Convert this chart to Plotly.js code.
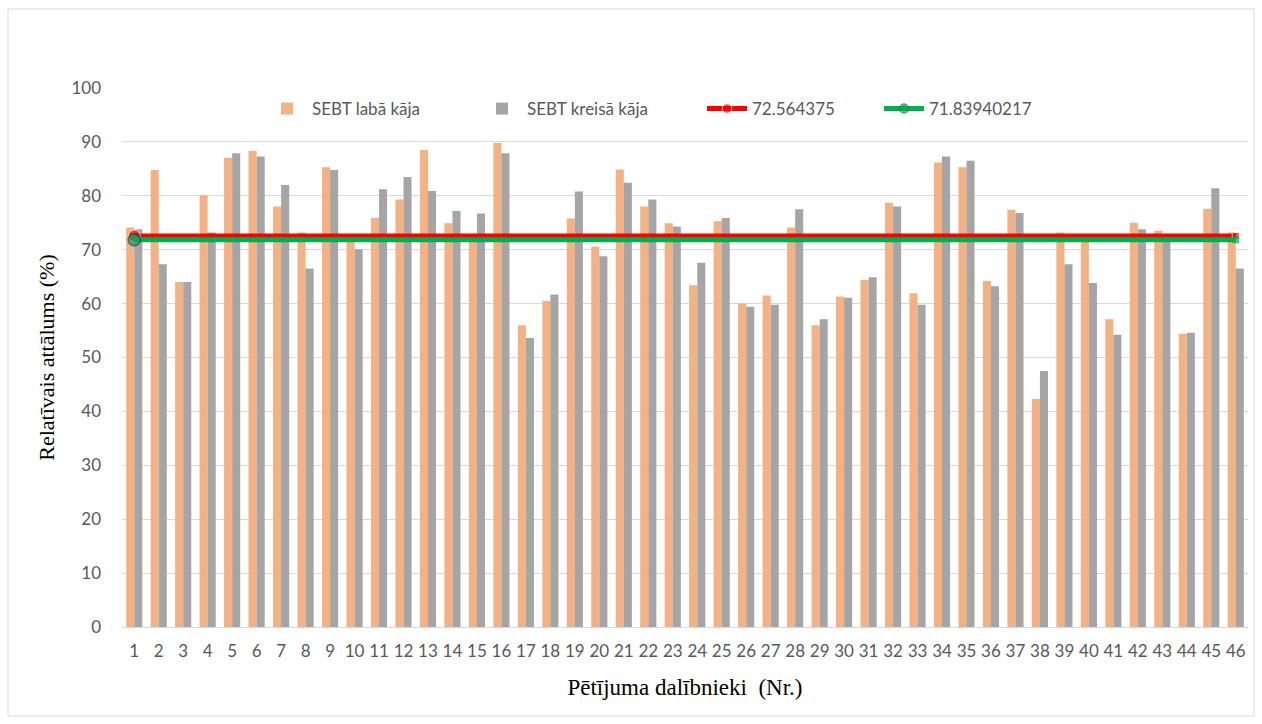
<!DOCTYPE html>
<html>
<head>
<meta charset="utf-8">
<script src="https://cdn.plot.ly/plotly-3.0.1.min.js"></script>
<style>html,body{margin:0;padding:0;background:#fff;}#chart{width:1262px;height:724px;}</style>
</head>
<body>
<div id="chart"></div>
<script>
const participants = ["1","2","3","4","5","6","7","8","9","10","11","12","13","14","15","16","17","18","19","20","21","22","23","24","25","26","27","28","29","30","31","32","33","34","35","36","37","38","39","40","41","42","43","44","45","46"];
const rightLeg = [74.1,84.8,64.0,80.1,87.0,88.3,78.0,73.2,85.3,71.5,75.9,79.3,88.5,74.9,72.0,89.8,56.0,60.5,75.8,70.6,84.9,78.0,74.9,63.4,75.3,60.0,61.5,74.1,56.0,61.3,64.4,78.7,61.9,86.2,85.3,64.2,77.4,42.3,73.2,71.8,57.1,75.0,73.5,54.4,77.6,73.2];
const leftLeg = [73.8,67.3,64.0,73.2,87.9,87.3,82.0,66.5,84.8,70.1,81.2,83.5,80.9,77.2,76.7,87.9,53.6,61.7,80.8,68.8,82.4,79.3,74.3,67.6,75.9,59.4,59.8,77.5,57.1,61.1,64.9,78.0,59.8,87.3,86.5,63.2,76.8,47.5,67.3,63.8,54.2,73.8,72.0,54.6,81.4,66.5];
const meanRight = 72.564375;
const meanLeft = 71.83940217;
const meanX = ["1","46"];
const seriesNames = ["SEBT labā kāja","SEBT kreisā kāja","72.564375","71.83940217"];

const traces = [
  {type:'bar', x:participants, y:rightLeg, name:seriesNames[0], marker:{color:'#F4B183'}, legendwidth:160},
  {type:'bar', x:participants, y:leftLeg, name:seriesNames[1], marker:{color:'#A5A5A5'}, legendwidth:170},
  {type:'scatter', mode:'lines+markers', x:meanX, y:[meanRight,meanRight], name:seriesNames[2], legendwidth:122,
   line:{color:'#FF0000', width:5}, marker:{color:'#FF0000', size:[12,7], symbol:['circle','square']}},
  {type:'scatter', mode:'lines+markers', x:meanX, y:[meanLeft,meanLeft], name:seriesNames[3], legendwidth:110,
   line:{color:'#00B050', width:5}, marker:{color:'#00B050', size:[12,7], symbol:['circle','square'], line:{color:'#203864', width:[1.5,0]}}}
];

const W=1262, H=724, L=122, R=1248, T=88, B=627;
function px(x){return (x-L)/(R-L);}
function py(y){return (B-y)/(B-T);}

const layout = {
  width:W, height:H,
  margin:{l:L, r:W-R, t:T, b:H-B, pad:0},
  paper_bgcolor:'#fff', plot_bgcolor:'#fff',
  barmode:'group', bargap:0.34, bargroupgap:0,
  font:{family:'Lato, "Open Sans", sans-serif', color:'#595959', size:17},
  xaxis:{type:'category', range:[-0.5,45.5], tickangle:0, showgrid:false, zeroline:false, showline:false, ticks:'',
         tickfont:{size:17, color:'#595959'}, ticklabelstandoff:12,
         title:{text:'Pētījuma dalībnieki\u00a0\u00a0(Nr.)', font:{family:'"Liberation Serif", "Times New Roman", serif', size:23, color:'#000'}, standoff:18},
         automargin:false},
  yaxis:{range:[0,100], dtick:10, showgrid:true, gridcolor:'#D9D9D9', gridwidth:1, zeroline:true, zerolinecolor:'#D9D9D9', zerolinewidth:1,
         showline:false, ticks:'', tickfont:{size:17, color:'#595959'}, ticklabelstandoff:20,
         title:{text:'Relatīvais attālums (%)', font:{family:'"Liberation Serif", "Times New Roman", serif', size:22, color:'#000'}, standoff:10},
         automargin:false, fixedrange:true},
  showlegend:true,
  legend:{orientation:'h', x:px(262), xanchor:'left', y:py(109), yanchor:'middle', bgcolor:'rgba(0,0,0,0)',
          font:{size:17, color:'#595959'}, itemwidth:40, traceorder:'normal', itemclick:false},
  shapes:[
    {type:'rect', xref:'paper', yref:'paper', x0:px(8), x1:px(1254), y0:py(9), y1:py(716), line:{color:'#D9D9D9', width:1}, fillcolor:'rgba(0,0,0,0)', layer:'below'}
  ]
};

Plotly.newPlot('chart', traces, layout, {displayModeBar:false, staticPlot:true});
</script>
</body>
</html>
